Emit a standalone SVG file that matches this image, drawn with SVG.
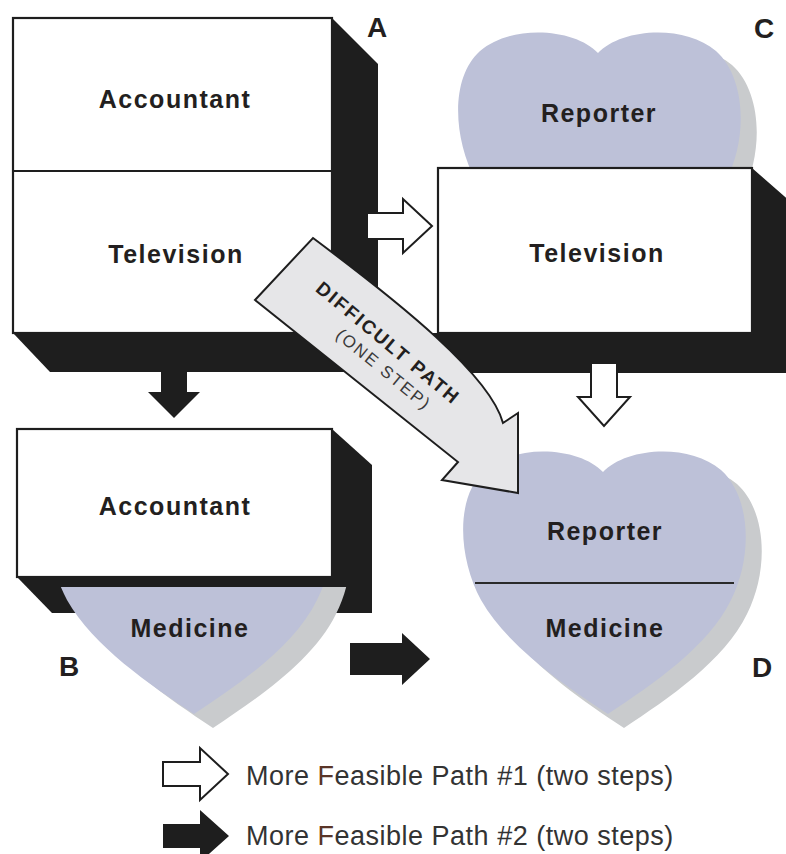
<svg xmlns="http://www.w3.org/2000/svg" xmlns:xlink="http://www.w3.org/1999/xlink" width="786" height="854" viewBox="0 0 786 854">
<style>
.box{fill:#fff;stroke:#1e1e1e;stroke-width:2.2}
.shadow{fill:#1e1e1e}
.lbl{font-family:"Liberation Sans",Arial,sans-serif;font-weight:bold;font-size:25px;letter-spacing:1.5px;fill:#231f20;text-anchor:middle}
.corner{font-family:"Liberation Sans",Arial,sans-serif;font-weight:bold;font-size:28px;fill:#231f20;text-anchor:middle}
.warrow{fill:#fff;stroke:#1e1e1e;stroke-width:2;stroke-linejoin:miter}
.barrow{fill:#1e1e1e}
.legend{font-family:"Liberation Sans",Arial,sans-serif;font-size:27px;letter-spacing:0.5px;fill:#333}
.heart{fill:#bdc1d8}
.hshadow{fill:#c9cbcd}
</style>
<defs>
<path id="heart" d="M0,20 C-22,-4 -85,-10 -118,18 C-148,45 -145,105 -122,148 C-95,195 -40,232 5,262 C50,232 105,195 128,148 C150,105 148,45 118,18 C85,-10 22,-4 0,20 Z"/>
<clipPath id="clipB"><rect x="0" y="587" width="420" height="267"/></clipPath>
</defs>
<rect width="786" height="854" fill="#fff"/>

<g id="node-C-heart">
<use xlink:href="#heart" class="hshadow" transform="translate(614,47)"/>
<use xlink:href="#heart" class="heart" transform="translate(598,33)"/>
<text class="lbl" x="599" y="122">Reporter</text>
</g>

<g id="node-A">
<polygon class="shadow" points="332,18 378,64 378,372 50,372 13,333"/>
<rect class="box" x="13" y="18" width="319" height="315"/>
<line x1="13" y1="171" x2="332" y2="171" stroke="#1e1e1e" stroke-width="2"/>
<text class="lbl" x="175" y="108">Accountant</text>
<text class="lbl" x="176" y="263">Television</text>
<text class="corner" x="377" y="37">A</text>
</g>

<g id="node-C">
<polygon class="shadow" points="752,168 800,210 800,373 400,373 400,333 752,333"/>
<rect class="box" x="438" y="168" width="314" height="165"/>
<text class="lbl" x="597" y="262">Television</text>
<text class="corner" x="764" y="38">C</text>
</g>

<g id="node-B">
<polygon class="shadow" points="332,429 372,465 372,613 52,613 17,577"/>
<rect class="box" x="17" y="429" width="315" height="148"/>
<g clip-path="url(#clipB)">
<use xlink:href="#heart" class="hshadow" transform="translate(208,466)"/>
<use xlink:href="#heart" class="heart" transform="translate(189,452)"/>
</g>
<text class="lbl" x="175" y="515">Accountant</text>
<text class="lbl" x="190" y="637">Medicine</text>
<text class="corner" x="69" y="676">B</text>
</g>

<g id="node-D">
<use xlink:href="#heart" class="hshadow" transform="translate(619,466)"/>
<use xlink:href="#heart" class="heart" transform="translate(603,452)"/>
<line x1="475" y1="583" x2="734" y2="583" stroke="#2a2a2a" stroke-width="2"/>
<text class="lbl" x="605" y="540">Reporter</text>
<text class="lbl" x="605" y="637">Medicine</text>
<text class="corner" x="762" y="677">D</text>
</g>

<g id="connectors">
<polygon class="warrow" points="367,213 403,213 403,199 432,226 403,253 403,239 367,239"/>
<polygon class="warrow" points="591,363 617,363 617,397 630,397 604,426 578,397 591,397"/>
<polygon class="barrow" points="161,368 187,368 187,392 200,392 174,418 148,392 161,392"/>
<polygon class="barrow" points="350,643 402,643 402,633 430,659 402,685 402,675 350,675"/>
<g id="difficult-path">
<path d="M255,300 L313,238 C400,303 490,375 503,423 L518,413 L518,493 L442,480 L458,462 Z" fill="#e6e6e8" stroke="#1e1e1e" stroke-width="2" stroke-linejoin="miter"/>
<text transform="translate(384,348) rotate(39.6)" font-family="'Liberation Sans',Arial,sans-serif" font-weight="bold" font-size="19" letter-spacing="2.1" fill="#231f20" text-anchor="middle">DIFFICULT PATH</text>
<text transform="translate(380,374) rotate(39.4)" font-family="'Liberation Sans',Arial,sans-serif" font-size="17" letter-spacing="2" fill="#3a3a3a" text-anchor="middle">(ONE STEP)</text>
</g>
</g>

<g id="legend">
<polygon class="warrow" points="163,762 200,762 200,748 228,774 200,800 200,786 163,786"/>
<text class="legend" x="246" y="785">More <tspan fill="#5a3528">F</tspan>easible Path #1 (two steps)</text>
<polygon class="barrow" points="163,824 200,824 200,810 229,836 200,862 200,848 163,848"/>
<text class="legend" x="246" y="845">More <tspan fill="#5a3528">F</tspan>easible Path #2 (two steps)</text>
</g>
</svg>
